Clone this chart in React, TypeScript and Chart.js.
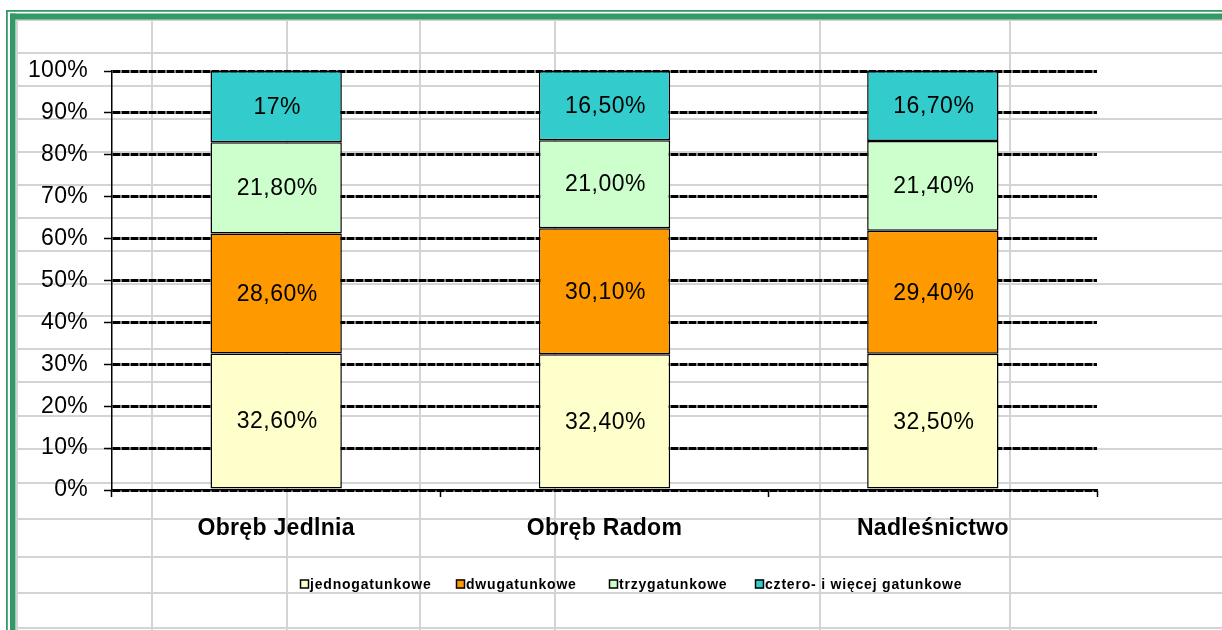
import React, { useEffect, useRef } from 'react';
import { Chart, registerables } from 'chart.js';

Chart.register(...registerables);

const categories = ['Obręb Jedlnia', 'Obręb Radom', 'Nadleśnictwo'];
const seriesNames = ['jednogatunkowe', 'dwugatunkowe', 'trzygatunkowe', 'cztero- i więcej gatunkowe'];
const jednogatunkowe = [32.6, 32.4, 32.5];
const dwugatunkowe = [28.6, 30.1, 29.4];
const trzygatunkowe = [21.8, 21.0, 21.4];
const czteroIWiecej = [17.0, 16.5, 16.7];
const jednoLabels = ['32,60%', '32,40%', '32,50%'];
const dwuLabels = ['28,60%', '30,10%', '29,40%'];
const trzyLabels = ['21,80%', '21,00%', '21,40%'];
const czteroLabels = ['17%', '16,50%', '16,70%'];
const yTickValues = [0, 10, 20, 30, 40, 50, 60, 70, 80, 90, 100];

const seriesColors = ['#FFFFCC', '#FF9900', '#CCFFCC', '#33CCCC'];
const FONT = '"Liberation Sans", Arial, sans-serif';

const sheetPlugin = {
  id: 'sheet',
  beforeDraw(chart: any) {
    const ctx = chart.ctx;
    const W = chart.width;
    const H = chart.height;
    ctx.save();
    ctx.fillStyle = '#ffffff';
    ctx.fillRect(0, 0, W, H);
    ctx.strokeStyle = '#d4d4d4';
    ctx.lineWidth = 2;
    const rows = [20, 53, 86, 119, 152, 185, 218, 251, 284, 316, 349, 382, 416, 449, 483, 519, 557, 593, 628];
    const cols = [17, 152, 287, 420, 555, 820, 1010];
    rows.forEach((y) => {
      ctx.beginPath();
      ctx.moveTo(16, y);
      ctx.lineTo(W, y);
      ctx.stroke();
    });
    cols.forEach((x) => {
      ctx.beginPath();
      ctx.moveTo(x, 20);
      ctx.lineTo(x, H);
      ctx.stroke();
    });
    ctx.fillStyle = '#339966';
    ctx.fillRect(6, 10, W - 6, 1.8);
    ctx.fillRect(6, 10, 1.8, H - 10);
    ctx.fillRect(10, 13.5, W - 10, 6);
    ctx.fillRect(10, 13.5, 5.5, H - 13.5);
    ctx.restore();
    (ctx as any).letterSpacing = '0.3px';
  },
  afterDatasetsDraw(chart: any) {
    const ctx = chart.ctx;
    const labelSets = [jednoLabels, dwuLabels, trzyLabels, czteroLabels];
    ctx.save();
    (ctx as any).letterSpacing = '0.5px';
    ctx.font = `23px ${FONT}`;
    ctx.fillStyle = '#000';
    ctx.textAlign = 'center';
    ctx.textBaseline = 'middle';
    chart.data.datasets.forEach((ds: any, di: number) => {
      const meta = chart.getDatasetMeta(di);
      meta.data.forEach((el: any, i: number) => {
        const props = el.getProps(['x', 'y', 'base'], true);
        const cy = (props.y + props.base) / 2;
        ctx.fillText(labelSets[di][i], props.x + 1, cy + 1);
      });
    });
    ctx.restore();
  },
  afterDraw(chart: any) {
    const ctx = chart.ctx;
    ctx.save();
    (ctx as any).letterSpacing = '0.8px';
    ctx.font = `bold 14px ${FONT}`;
    ctx.textBaseline = 'middle';
    ctx.textAlign = 'left';
    const xs = [300, 456, 609, 755];
    const y = 584;
    seriesNames.forEach((name, i) => {
      const x = xs[i];
      ctx.fillStyle = seriesColors[i];
      ctx.fillRect(x, y - 4.5, 9, 9);
      ctx.strokeStyle = '#000';
      ctx.lineWidth = 1.5;
      ctx.strokeRect(x + 0.5, y - 4, 8, 8);
      ctx.fillStyle = '#000';
      ctx.fillText(name, x + 10, y + 1);
    });
    ctx.restore();
    (ctx as any).letterSpacing = '0px';
  },
};

export default function App() {
  const ref = useRef<HTMLCanvasElement>(null);
  useEffect(() => {
    const seriesValues = [jednogatunkowe, dwugatunkowe, trzygatunkowe, czteroIWiecej];
    const chart = new Chart(ref.current as HTMLCanvasElement, {
      type: 'bar',
      data: {
        labels: categories,
        datasets: seriesNames.map((name, i) => ({
          label: name,
          data: seriesValues[i],
          backgroundColor: seriesColors[i],
          borderColor: '#000',
          borderWidth: 1.5,
          borderSkipped: false,
          categoryPercentage: 1,
          barPercentage: 0.4,
        })),
      },
      options: {
        responsive: false,
        animation: false,
        devicePixelRatio: 1,
        layout: { padding: { left: 0, right: 125, top: 71, bottom: 0 } },
        plugins: { legend: { display: false }, tooltip: { enabled: false } },
        scales: {
          x: {
            stacked: true,
            afterFit: (s: any) => { s.height = 140; },
            border: { display: true, color: '#000', width: 1.5 },
            grid: {
              offset: true,
              drawOnChartArea: false,
              drawTicks: true,
              tickLength: 7,
              tickColor: '#000',
              tickWidth: 1.5,
            },
            ticks: {
              color: '#000',
              padding: 18,
              font: { family: FONT, size: 23, weight: 'bold' },
            },
          },
          y: {
            stacked: true,
            min: 0,
            max: 100,
            afterFit: (s: any) => { s.width = 112; },
            afterBuildTicks: (s: any) => { s.ticks = yTickValues.map((v) => ({ value: v })); },
            grid: {
              color: '#000',
              lineWidth: 3,
              drawTicks: true,
              tickLength: 8,
              tickColor: '#000',
              tickWidth: 1.5,
              tickBorderDash: [],
            },
            border: { display: true, color: '#000', width: 1.5, dash: [8, 1] },
            ticks: {
              color: '#000',
              padding: 16,
              font: { family: FONT, size: 23 },
              callback: (v: any) => v + '%',
            },
          } as any,
        },
      },
      plugins: [sheetPlugin],
    });
    return () => chart.destroy();
  }, []);
  return (
    <div style={{ position: 'fixed', left: 0, top: 0, width: 1222, height: 630 }}>
      <canvas ref={ref} width={1222} height={630} />
    </div>
  );
}
